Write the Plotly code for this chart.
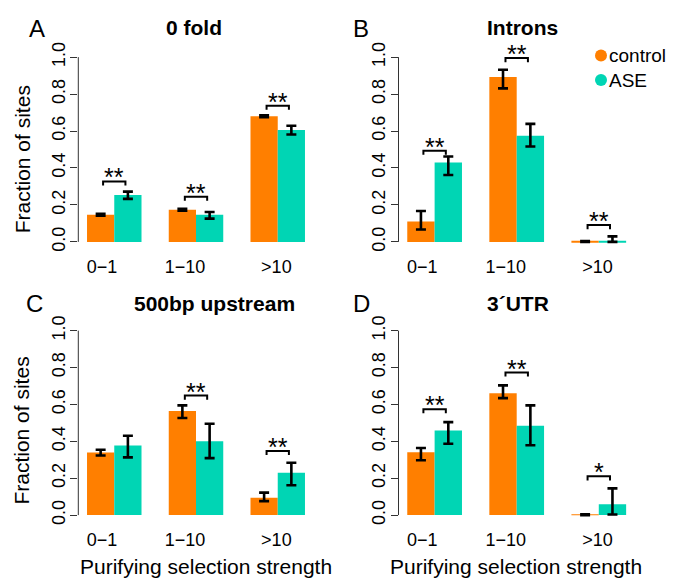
import numpy as np
import plotly.graph_objects as go

# ---------------- data ----------------
categories = ["0\u22121", "1\u221210", ">10"]
panel_titles = ["0 fold", "Introns", "500bp upstream", "3\u00b4UTR"]
panel_letters = ["A", "B", "C", "D"]
series_names = ["control", "ASE"]

# fraction of sites (bar heights) and error bar bounds
control_A = [0.147, 0.174, 0.680]
control_A_lo = [0.142, 0.169, 0.675]
control_A_hi = [0.152, 0.179, 0.685]
ase_A = [0.254, 0.147, 0.606]
ase_A_lo = [0.233, 0.126, 0.581]
ase_A_hi = [0.272, 0.162, 0.629]

control_B = [0.110, 0.893, 0.002]
control_B_lo = [0.067, 0.831, 0.000]
control_B_hi = [0.167, 0.932, 0.004]
ase_B = [0.430, 0.574, 0.004]
ase_B_lo = [0.362, 0.516, 0.000]
ase_B_hi = [0.462, 0.639, 0.030]

control_C = [0.339, 0.565, 0.094]
control_C_lo = [0.323, 0.526, 0.076]
control_C_hi = [0.354, 0.595, 0.122]
ase_C = [0.378, 0.400, 0.229]
ase_C_lo = [0.313, 0.309, 0.162]
ase_C_hi = [0.430, 0.495, 0.284]

control_D = [0.341, 0.661, 0.002]
control_D_lo = [0.297, 0.634, 0.000]
control_D_hi = [0.364, 0.703, 0.004]
ase_D = [0.458, 0.485, 0.059]
ase_D_lo = [0.387, 0.379, 0.003]
ase_D_hi = [0.504, 0.595, 0.145]

# significance labels and bracket heights (fraction of sites)
sig_A = ["**", "**", "**"]
sig_A_y = [0.327, 0.245, 0.737]
sig_B = ["**", "**", "**"]
sig_B_y = [0.494, 0.995, 0.091]
sig_C = ["", "**", "**"]
sig_C_y = [None, 0.648, 0.348]
sig_D = ["**", "**", "*"]
sig_D_y = [0.574, 0.773, 0.210]

yticks = [0.0, 0.2, 0.4, 0.6, 0.8, 1.0]
ytick_text = ["0.0", "0.2", "0.4", "0.6", "0.8", "1.0"]
xtick_pos = [1.55, 4.6, 7.95]

panels = [
    (control_A, control_A_lo, control_A_hi, ase_A, ase_A_lo, ase_A_hi, sig_A, sig_A_y),
    (control_B, control_B_lo, control_B_hi, ase_B, ase_B_lo, ase_B_hi, sig_B, sig_B_y),
    (control_C, control_C_lo, control_C_hi, ase_C, ase_C_lo, ase_C_hi, sig_C, sig_C_y),
    (control_D, control_D_lo, control_D_hi, ase_D, ase_D_lo, ase_D_hi, sig_D, sig_D_y),
]

# ---------------- style ----------------
W, H = 680, 580
FONT = "Liberation Sans, Arial, Helvetica, sans-serif"
COL_CONTROL = "#FF7F00"
COL_ASE = "#00D5B4"

def px(x):
    return x / W

def py(y):
    return 1 - y / H

# pixel geometry per panel: x-left, x-right, y(0), y(1)
geo = [
    (78.3, 313.7, 238.0, 50.0),
    (398.5, 634.9, 238.0, 50.0),
    (78.3, 313.7, 516.0, 328.3),
    (398.5, 634.9, 516.0, 328.3),
]
title_pos = [(194, 20), (522, 20), (214, 301), (518, 301)]
letter_pos = [(37, 20.5), (361, 20.5), (34, 301), (361, 301)]

fig = go.Figure()
shapes = []
annotations = []

n = len(categories)
group_centers = 2 + 3 * np.arange(n)

for i, (cv, clo, chi, av, alo, ahi, sig, sig_y) in enumerate(panels):
    k = "" if i == 0 else str(i + 1)
    xref, yref = "x" + k, "y" + k
    for vals, lo, hi, col, name, off in [
        (cv, clo, chi, COL_CONTROL, series_names[0], -0.5),
        (av, alo, ahi, COL_ASE, series_names[1], 0.5),
    ]:
        vals = np.array(vals)
        fig.add_trace(go.Bar(
            x=group_centers + off, y=vals, width=1.0,
            marker=dict(color=col, line=dict(width=0)),
            error_y=dict(type="data", symmetric=False,
                         array=np.array(hi) - vals,
                         arrayminus=vals - np.array(lo),
                         color="black", thickness=2.6, width=5),
            cliponaxis=False, showlegend=False, name=name,
            xaxis=xref, yaxis=yref,
        ))
    xl, xr, y0, y1 = geo[i]
    span = y0 - y1
    fig.layout["xaxis" + k] = dict(
        domain=[px(xl), px(xr)], range=[0.68, 9.32], anchor=yref,
        showgrid=False, zeroline=False, showline=False,
        tickvals=xtick_pos, ticktext=categories, ticks="outside",
        ticklen=1, tickcolor="rgba(0,0,0,0)",
        tickfont=dict(size=18, color="black", family=FONT),
    )
    fig.layout["yaxis" + k] = dict(
        domain=[py(y0 + 0.04 * span), py(y1 - 0.04 * span)],
        range=[-0.04, 1.04], anchor=xref,
        showgrid=False, zeroline=False, showline=False,
        tickvals=yticks, ticktext=ytick_text, ticks="outside",
        ticklen=7, tickwidth=1, tickcolor="#333333", tickangle=-90,
        ticklabelstandoff=-2,
        tickfont=dict(size=18, color="black", family=FONT),
    )
    # y-axis line from 0 to 1
    shapes.append(dict(type="line", xref=xref + " domain", yref=yref,
                       x0=0, x1=0, y0=0, y1=1,
                       line=dict(color="#333333", width=1)))
    # significance brackets
    for g, (s, yy) in enumerate(zip(sig, sig_y)):
        if not s:
            continue
        gc = group_centers[g]
        a, b = gc - 0.41, gc + 0.41
        d = 0.022
        shapes.append(dict(type="path", xref=xref, yref=yref,
                           path=f"M {a} {yy - d} L {a} {yy} L {b} {yy} L {b} {yy - d}",
                           line=dict(color="black", width=2)))
        annotations.append(dict(xref=xref, yref=yref, x=gc, y=yy,
                                text=s, showarrow=False, yanchor="bottom",
                                yshift=-12,
                                font=dict(size=25, color="black", family=FONT)))
    # titles and letters
    tx, ty = title_pos[i]
    annotations.append(dict(xref="paper", yref="paper", x=px(tx), y=py(ty),
                            text="<b>" + panel_titles[i] + "</b>", showarrow=False,
                            xanchor="center", yanchor="middle",
                            font=dict(size=21, color="black", family=FONT)))
    lx, ly = letter_pos[i]
    annotations.append(dict(xref="paper", yref="paper", x=px(lx), y=py(ly),
                            text=panel_letters[i], showarrow=False,
                            xanchor="center", yanchor="middle",
                            font=dict(size=24, color="black", family=FONT)))

# axis titles
for (x, y) in [(22, 154), (22, 430)]:
    annotations.append(dict(xref="paper", yref="paper", x=px(x), y=py(y),
                            text="Fraction of sites", textangle=-90,
                            showarrow=False, xanchor="center", yanchor="middle",
                            font=dict(size=21, color="black", family=FONT)))
for (x, y) in [(206, 568), (516, 568)]:
    annotations.append(dict(xref="paper", yref="paper", x=px(x), y=py(y),
                            text="Purifying selection strength",
                            showarrow=False, xanchor="center", yanchor="middle",
                            font=dict(size=21, color="black", family=FONT)))

# legend (drawn manually)
for (cy, col, name) in [(48.3, COL_CONTROL, series_names[0]), (73.3, COL_ASE, series_names[1])]:
    shapes.append(dict(type="circle", xref="paper", yref="paper",
                       xsizemode="pixel", ysizemode="pixel",
                       xanchor=px(601), yanchor=py(cy),
                       x0=-6, x1=6, y0=-6, y1=6,
                       fillcolor=col, line=dict(width=0)))
    annotations.append(dict(xref="paper", yref="paper", x=px(607), y=py(cy),
                            text=name, showarrow=False,
                            xanchor="left", yanchor="middle",
                            font=dict(size=19, color="black", family=FONT)))

fig.update_layout(
    width=W, height=H, margin=dict(l=0, r=0, t=0, b=0),
    paper_bgcolor="white", plot_bgcolor="white",
    barmode="overlay", shapes=shapes, annotations=annotations,
    showlegend=False, font=dict(family=FONT, color="black"),
)

fig.write_html("out.html")
